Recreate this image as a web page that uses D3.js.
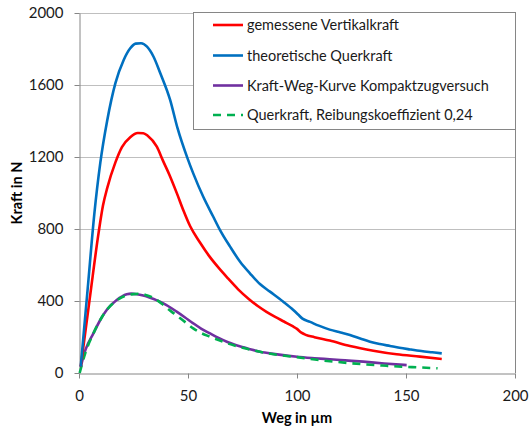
<!DOCTYPE html>
<html><head><meta charset="utf-8">
<script src="https://cdn.jsdelivr.net/npm/d3@7"></script>
<style>
html,body{margin:0;padding:0;background:#fff;}
svg{display:block;font-family:Lato,"Open Sans",sans-serif;}
</style></head>
<body><svg id="c" width="529" height="429"></svg>
<script>
// Data
const xTicks = [0, 50, 100, 150, 200];
const yTicks = [0, 400, 800, 1200, 1600, 2000];
const seriesNames = ["gemessene Vertikalkraft", "theoretische Querkraft", "Kraft-Weg-Kurve Kompaktzugversuch", "Querkraft, Reibungskoeffizient 0,24"];

const redX = [0.8, 5, 9, 11, 13, 16.7, 19.7, 23.5, 27, 29.5, 31.5, 35.7, 38.5, 41.5, 45, 48, 51, 55.5, 60, 64, 68, 73, 78, 82, 86, 90, 94, 98, 100, 102, 104, 108, 115, 124.3, 135, 145.7, 156.4, 166.4];
const redY = [35, 420, 780, 930, 1030, 1170, 1255, 1310, 1333, 1332, 1318, 1257, 1180, 1100, 995, 900, 815, 725, 645, 585, 530, 465, 410, 372, 340, 312, 286, 260, 245, 224, 212, 199, 180, 150, 124, 104, 91, 78];

const blueX = [0.8, 4, 7, 9.8, 12.9, 16.7, 20.5, 23.5, 26, 28.5, 31.2, 34.2, 37.3, 41.8, 45.2, 49.7, 52.4, 57, 61.6, 64.7, 69.3, 73.9, 78.4, 83, 87.6, 93.7, 98.3, 100.5, 102.5, 106, 110, 115, 120, 124.3, 129, 133.5, 138, 142.7, 147, 151.8, 157, 162, 166.4];
const blueY = [35, 470, 880, 1170, 1400, 1610, 1739, 1804, 1830, 1832, 1813, 1757, 1665, 1517, 1360, 1195, 1109, 979, 868, 794, 702, 618, 554, 494, 452, 396, 350, 325, 302, 284, 263, 241, 225, 211, 192, 174, 161, 150, 140, 131, 122, 115, 109];

const purpleX = [0.8, 3, 6.6, 10, 12.7, 17.3, 21.9, 24, 26.5, 29.5, 32.6, 35.5, 38.7, 44.8, 48.5, 52.4, 56, 60.1, 64, 67.8, 71.5, 75.4, 79, 83, 90, 100, 108, 115, 122, 130.4, 140, 150.3];
const purpleY = [35, 130, 220, 300, 350, 405, 437, 441, 438, 430, 418, 405, 387, 341, 310, 276, 247, 220, 195, 174, 157, 143, 130, 118, 105, 90, 82, 76, 70, 63, 53, 44];

const greenX = [0.3, 3, 6.6, 10, 13, 17, 21, 25, 28, 31, 34, 38, 42, 45, 49, 52.4, 56, 60, 64, 68, 72, 76, 80, 85, 90, 100, 110, 118, 124, 132, 141, 148, 156, 164.5];
const greenY = [0, 115, 220, 300, 355, 400, 428, 438, 440, 432, 418, 385, 345, 318, 280, 248, 222, 202, 183, 165, 150, 137, 126, 113, 103, 88, 72, 62, 55, 47, 40, 35, 31, 26];

const svg = d3.select("#c");
const L = 79, R = 515, T = 13, B = 373;
const x = d3.scaleLinear().domain([0, 200]).range([L, R]);
const y = d3.scaleLinear().domain([0, 2000]).range([B, T]);

// gridlines
svg.append("g").selectAll("line").data(yTicks.filter(d => d > 0)).join("line")
  .attr("x1", L).attr("x2", R).attr("y1", d => y(d) + 0.5).attr("y2", d => y(d) + 0.5)
  .attr("stroke", "#bfbfbf").attr("stroke-width", 1);
// right border
svg.append("line").attr("x1", R + 0.5).attr("x2", R + 0.5).attr("y1", T).attr("y2", B)
  .attr("stroke", "#868686");

// axes
const gx = svg.append("g").attr("transform", `translate(0,${B + 0.5})`)
  .call(d3.axisBottom(x).tickValues(xTicks).tickFormat(d3.format("d")).tickSize(5).tickPadding(12).tickSizeOuter(0));
const gy = svg.append("g").attr("transform", `translate(${L + 0.5},0)`)
  .call(d3.axisLeft(y).tickValues(yTicks).tickFormat(d3.format("d")).tickSize(5).tickPadding(11).tickSizeOuter(0));
[gx, gy].forEach(g => {
  g.select(".domain").attr("stroke", "#868686");
  g.selectAll(".tick line").attr("stroke", "#868686");
  g.selectAll("text").attr("font-family", "Lato").attr("font-size", 15).attr("fill", "#1a1a1a");
});

// lines
const mk = (xs, ys) => xs.map((v, i) => [v, ys[i]]);
const line = d3.line().x(d => x(d[0])).y(d => y(d[1])).curve(d3.curveMonotoneX);
const series = [
  {pts: mk(redX, redY), color: "#ff0000", dash: null},
  {pts: mk(blueX, blueY), color: "#0070c0", dash: null},
  {pts: mk(purpleX, purpleY), color: "#7030a0", dash: null},
  {pts: mk(greenX, greenY), color: "#00b050", dash: "8,6"}
];
const drawOrder = [2, 3, 0, 1];
drawOrder.forEach(i => {
  const s = series[i];
  svg.append("path").attr("d", line(s.pts)).attr("fill", "none")
    .attr("stroke", s.color).attr("stroke-width", 2.6)
    .attr("stroke-dasharray", s.dash).attr("stroke-linejoin", "round");
});

// legend
const lg = svg.append("g");
lg.append("rect").attr("x", 193.5).attr("y", 12.5).attr("width", 322).attr("height", 117)
  .attr("fill", "#fff").attr("stroke", "#868686");
const rowY = [25, 55.5, 85.5, 115];
series.forEach((s, i) => {
  lg.append("line").attr("x1", 213).attr("x2", 243).attr("y1", rowY[i]).attr("y2", rowY[i])
    .attr("stroke", s.color).attr("stroke-width", 2.6).attr("stroke-dasharray", s.dash);
  lg.append("text").attr("x", 247).attr("y", rowY[i]).attr("dy", "0.35em")
    .attr("font-size", 14.5).attr("fill", "#1a1a1a").text(seriesNames[i]);
});

// axis titles
svg.append("text").attr("x", (L + R) / 2).attr("y", 423).attr("text-anchor", "middle")
  .attr("font-weight", "bold").attr("font-size", 14.5).attr("fill", "#000").text("Weg in µm");
svg.append("text").attr("transform", `translate(22,${(T + B) / 2}) rotate(-90)`)
  .attr("text-anchor", "middle").attr("font-weight", "bold").attr("font-size", 14.5)
  .attr("fill", "#000").text("Kraft in N");
</script></body></html>
